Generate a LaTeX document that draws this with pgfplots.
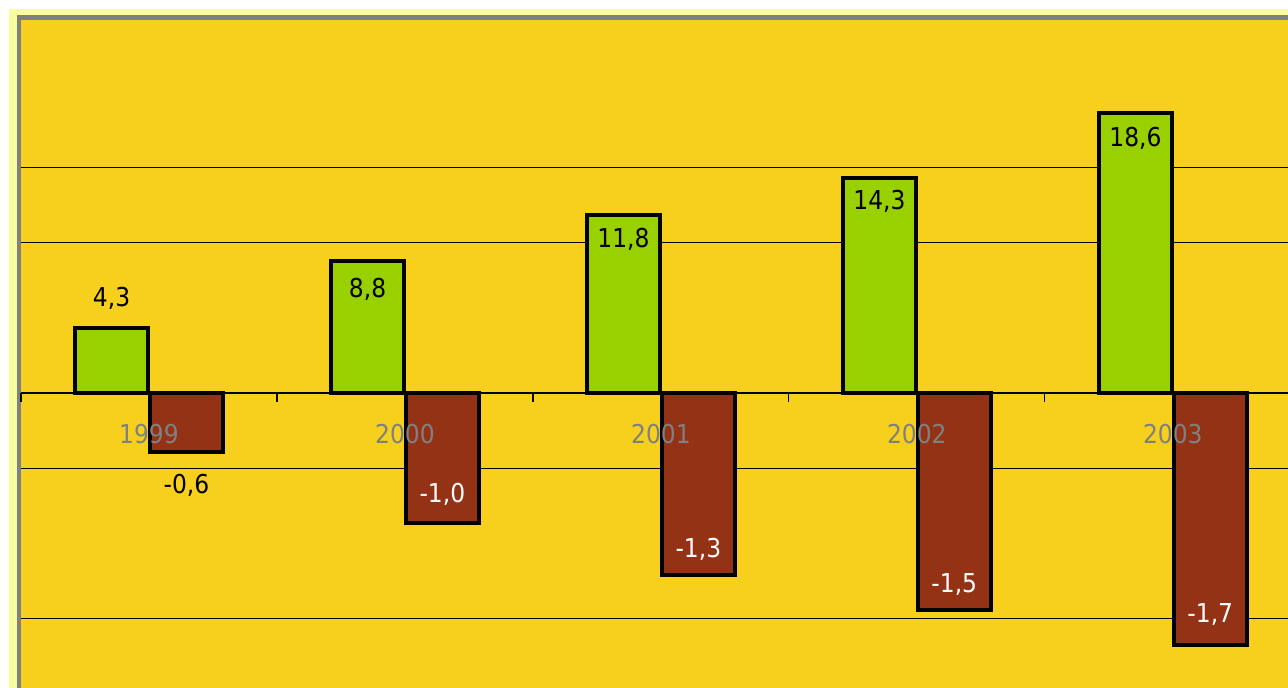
\documentclass[border=0pt]{standalone}
\usepackage{pgfplots}
\pgfplotsset{compat=1.18}
\usepackage{pgfplotstable}
\usepackage{fontspec}
\setmainfont{DejaVu Sans Condensed}
\definecolor{bgy}{RGB}{247,207,29}
\definecolor{lightyel}{RGB}{250,250,160}
\definecolor{framegray}{RGB}{128,128,128}
\definecolor{greenc}{RGB}{153,208,0}
\definecolor{redc}{RGB}{148,50,22}
\definecolor{labgray}{RGB}{128,128,128}
\newcommand\wt[1]{\textcolor{white}{#1}}

\pgfplotstableread{
x y lab off
0 4.3 4,3 15
1 8.8 8,8 -14.5
2 11.8 11,8 -12
3 14.3 14,3 -12
4 18.6 18,6 -12.5
}\greendata

\pgfplotstableread{
x y lab off
0 -0.6 -0,6 -16.5
1 -1.0 \wt{-1,0} 14
2 -1.3 \wt{-1,3} 13
3 -1.5 \wt{-1,5} 13
4 -1.7 \wt{-1,7} 15.5
}\reddata

\begin{document}
\begin{tikzpicture}[x=1pt,y=1pt]
\useasboundingbox (0,0) rectangle (644,344);
\fill[white] (0,0) rectangle (644,344);
\fill[lightyel] (4.5,0) rectangle (644,339.5);
\fill[framegray] (8.5,0) rectangle (644,336.5);
\fill[bgy] (10.5,0) rectangle (644,334);

% primary axis: grid + green bars
\begin{axis}[at={(10.5pt,0pt)}, anchor=south west, width=633.5pt, height=334pt, scale only axis,
  xmin=-0.5, xmax=4.45, ymin=-19.6, ymax=24.78,
  axis line style={draw=none}, tick style={draw=none},
  xtick=\empty, ytick={-15,-5,10,15}, yticklabels={},
  ymajorgrids, grid style={black, line width=0.6pt}]
\addplot[ybar, bar width=0.285, bar shift=-0.146, fill=greenc, draw=black, line width=2pt,
  nodes near coords, point meta=explicit symbolic,
  visualization depends on={\thisrow{off} \as \off},
  every node near coord/.append style={anchor=center, xshift=-18.7pt, yshift=\off pt, text=black, font=\fontsize{13}{15}\selectfont}]
  table[x=x, y=y, meta=lab] {\greendata};
\end{axis}

% secondary axis: red bars
\begin{axis}[at={(10.5pt,0pt)}, anchor=south west, width=633.5pt, height=334pt, scale only axis,
  xmin=-0.5, xmax=4.45,
  y coord trafo/.code={\pgfmathparse{#1+0.2615}},
  y coord inv trafo/.code={\pgfmathparse{#1-0.2615}},
  ymin=-1.9424, ymax=1.8639, hide axis]
\addplot[ybar, bar width=0.285, bar shift=0.146, fill=redc, draw=black, line width=2pt,
  nodes near coords, point meta=explicit symbolic,
  visualization depends on={\thisrow{off} \as \off},
  every node near coord/.append style={anchor=center, xshift=18.7pt, yshift=\off pt, text=black, font=\fontsize{13}{15}\selectfont}]
  table[x=x, y=y, meta=lab] {\reddata};
\end{axis}

% category axis on top
\begin{axis}[at={(10.5pt,0pt)}, anchor=south west, width=633.5pt, height=334pt, scale only axis,
  xmin=-0.5, xmax=4.45, ymin=-19.6, ymax=24.78,
  axis x line*=middle, axis y line=none,
  xtick={0,1,2,3,4}, xticklabels={1999,2000,2001,2002,2003},
  minor xtick={-0.5,0.5,1.5,2.5,3.5},
  major tick length=0pt, minor tick length=4.5pt, tick align=outside,
  x axis line style={black, line width=0.6pt},
  minor tick style={black, line width=0.6pt},
  xticklabel style={anchor=center, yshift=-20.5pt, text=labgray, font=\fontsize{13}{15}\selectfont},
  ytick=\empty]
\end{axis}
\end{tikzpicture}
\end{document}
